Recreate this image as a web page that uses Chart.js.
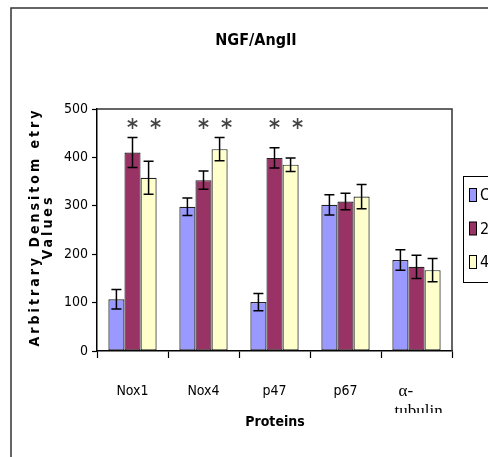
<!DOCTYPE html>
<html>
<head>
<meta charset="utf-8">
<script src="https://cdn.jsdelivr.net/npm/chart.js@4"></script>
<style>
  html, body { margin: 0; padding: 0; background: #fff; }
  #wrap { width: 488px; height: 457px; }
</style>
</head>
<body>
<div id="wrap"><canvas id="c" width="488" height="457"></canvas></div>
<script>
// Data
const proteins = ['Nox1', 'Nox4', 'p47', 'p67', 'α-tubulin'];
const seriesNames = ['Control', '24h', '48h'];
const controlVals = [107, 298, 101, 302, 188];
const h24Vals = [410, 353, 399, 309, 174];
const h48Vals = [358, 417, 385, 319, 167];
const controlErr = [20, 18, 18, 21, 21];
const h24Err = [31, 19, 21, 17, 24];
const h48Err = [34, 24, 14, 25, 24];
// which bars carry an asterisk (series index 1 and 2)
const h24Sig = [true, true, true, false, false];
const h48Sig = [true, true, true, false, false];
const yTicks = [0, 100, 200, 300, 400, 500];

const COLORS = ['#9999FF', '#993366', '#FFFFCC'];
const NARROW = "'DejaVu Sans Condensed', 'Liberation Sans', Arial, sans-serif";
const errors = [controlErr, h24Err, h48Err];
const sigs = [null, h24Sig, h48Sig];

// six-armed asterisk
function star(ctx, x, y, r) {
  ctx.beginPath();
  for (let k = 0; k < 3; k++) {
    const ang = Math.PI / 2 + k * Math.PI / 3;
    ctx.moveTo(x + r * Math.cos(ang), y + r * Math.sin(ang));
    ctx.lineTo(x - r * Math.cos(ang), y - r * Math.sin(ang));
  }
  ctx.stroke();
}

// frame, titles, legend, error bars, asterisks
const decorations = {
  id: 'decorations',
  beforeDraw(chart) {
    const ctx = chart.ctx;
    ctx.save();
    ctx.fillStyle = '#fff';
    ctx.fillRect(0, 0, chart.width, chart.height);
    ctx.strokeStyle = '#333';
    ctx.lineWidth = 1.5;
    ctx.beginPath();
    ctx.moveTo(11, chart.height);
    ctx.lineTo(11, 8);
    ctx.lineTo(chart.width, 8);
    ctx.stroke();
    ctx.restore();
  },
  afterDatasetsDraw(chart) {
    const ctx = chart.ctx;
    const y = chart.scales.y;
    const a = chart.chartArea;
    ctx.save();
    // plot box top and right
    ctx.strokeStyle = '#333';
    ctx.lineWidth = 1.5;
    ctx.beginPath();
    ctx.moveTo(a.left, a.top);
    ctx.lineTo(a.right, a.top);
    ctx.lineTo(a.right, a.bottom);
    ctx.stroke();
    chart.data.datasets.forEach((ds, di) => {
      chart.getDatasetMeta(di).data.forEach((bar, i) => {
        const v = ds.data[i], e = errors[di][i];
        const yt = y.getPixelForValue(v + e), yb = y.getPixelForValue(v - e);
        ctx.strokeStyle = '#000';
        ctx.lineWidth = 1.5;
        ctx.beginPath();
        ctx.moveTo(bar.x, yt); ctx.lineTo(bar.x, yb);
        ctx.moveTo(bar.x - 5, yt); ctx.lineTo(bar.x + 5, yt);
        ctx.moveTo(bar.x - 5, yb); ctx.lineTo(bar.x + 5, yb);
        ctx.stroke();
        if (sigs[di] && sigs[di][i]) {
          ctx.strokeStyle = '#444';
          ctx.lineWidth = 1.6;
          star(ctx, bar.x + (di === 2 ? 7 : 0), y.getPixelForValue(470), 5.5);
        }
      });
    });
    ctx.restore();
  },
  afterDraw(chart) {
    const ctx = chart.ctx;
    ctx.save();
    // main title
    ctx.fillStyle = '#000';
    ctx.font = 'bold 16px ' + NARROW;
    ctx.textAlign = 'center';
    ctx.textBaseline = 'middle';
    ctx.fillText('NGF/AngII', 256, 41);
    // x axis title
    ctx.font = 'bold 14px ' + NARROW;
    ctx.fillText('Proteins', 275, 422);
    // y axis title (two lines, spaced letters)
    ctx.save();
    ctx.translate(35, 227);
    ctx.rotate(-Math.PI / 2);
    ctx.font = 'bold 14px ' + NARROW;
    ctx.letterSpacing = '3px';
    ctx.fillText('Arbitrary Densitom etry', 0, 0);
    ctx.translate(0, 13);
    ctx.fillText('Values', 0, 0);
    ctx.restore();
    // clipped last category label in serif
    const x = chart.scales.x;
    const cx = x.getPixelForValue(proteins.length - 1);
    ctx.save();
    ctx.beginPath();
    ctx.rect(cx - 40, 370, 90, 43);
    ctx.clip();
    ctx.font = "17px 'Liberation Serif', 'DejaVu Serif', serif";
    ctx.textAlign = 'left';
    const parts = proteins[proteins.length - 1].split('-');
    ctx.fillText(parts[0] + '-', cx - 18, 392);
    ctx.fillText(parts[1], cx - 22, 412);
    ctx.restore();
    // legend box (runs off the right edge)
    ctx.strokeStyle = '#000';
    ctx.lineWidth = 1;
    ctx.strokeRect(463.5, 176.5, 40, 106);
    ctx.font = '16px ' + NARROW;
    ctx.textAlign = 'left';
    seriesNames.forEach((name, i) => {
      const cy = 195 + i * 33.5;
      ctx.fillStyle = COLORS[i];
      ctx.fillRect(469.5, cy - 6.5, 7, 13);
      ctx.strokeRect(469.5, cy - 6.5, 7, 13);
      ctx.fillStyle = '#000';
      ctx.fillText(name, 480, cy + 1);
    });
    ctx.restore();
  }
};

const datasets = [controlVals, h24Vals, h48Vals].map((vals, i) => ({
  label: seriesNames[i],
  data: vals,
  backgroundColor: COLORS[i],
  borderColor: '#222',
  borderWidth: 1.2,
  borderSkipped: false,
  categoryPercentage: 0.68,
  barPercentage: 1.0,
}));

new Chart(document.getElementById('c'), {
  type: 'bar',
  data: { labels: proteins, datasets },
  options: {
    responsive: false,
    animation: false,
    layout: { padding: { top: 109, right: 36, left: 0, bottom: 0 } },
    plugins: { legend: { display: false }, tooltip: { enabled: false }, title: { display: false } },
    scales: {
      x: {
        afterFit(scale) { scale.height = 106; },
        grid: { display: true, drawOnChartArea: false, offset: true, color: '#000', tickLength: 7, tickWidth: 1.2 },
        border: { display: true, color: '#000', width: 1.5 },
        ticks: {
          color: '#000',
          padding: 25,
          font: { family: NARROW, size: 14 },
          maxRotation: 0,
          autoSkip: false,
          callback(value, index) { return index === proteins.length - 1 ? '' : proteins[index]; },
        },
      },
      y: {
        min: 0,
        max: 500,
        afterFit(scale) { scale.width = 97; },
        afterBuildTicks(scale) { scale.ticks = yTicks.map(v => ({ value: v })); },
        grid: { display: true, drawOnChartArea: false, color: '#000', tickLength: 5, tickWidth: 1.2 },
        border: { display: true, color: '#000', width: 1.5 },
        ticks: { color: '#000', padding: 4, font: { family: NARROW, size: 14 } },
      },
    },
  },
  plugins: [decorations],
});
</script>
</body>
</html>
